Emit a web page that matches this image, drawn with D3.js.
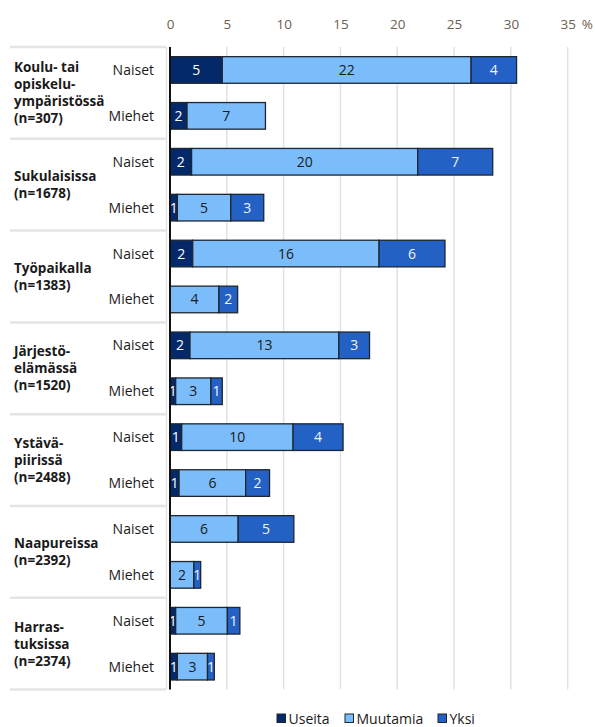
<!DOCTYPE html>
<html>
<head>
<meta charset="utf-8">
<script src="https://cdn.jsdelivr.net/npm/d3@7"></script>
<style>
  html, body { margin: 0; padding: 0; background: #fff; }
  svg { display: block; font-family: "Open Sans", "Noto Sans", sans-serif; }
</style>
</head>
<body>
<svg id="chart" width="595" height="727"></svg>
<script>
// ---- Data ----
const groupLines = [
  ["Koulu- tai", "opiskelu-", "ympäristössä", "(n=307)"],
  ["Sukulaisissa", "(n=1678)"],
  ["Työpaikalla", "(n=1383)"],
  ["Järjestö-", "elämässä", "(n=1520)"],
  ["Ystävä-", "piirissä", "(n=2488)"],
  ["Naapureissa", "(n=2392)"],
  ["Harras-", "tuksissa", "(n=2374)"]
];
const sexes = ["Naiset", "Miehet"];
const seriesNames = ["Useita", "Muutamia", "Yksi"];
// one value per row: group0 Naiset, group0 Miehet, group1 Naiset, ...
const useita   = [4.6, 1.5, 1.9, 0.65, 2.0, 0,    1.76, 0.5, 1.03, 0.8, 0,   0,   0.5,  0.65];
const muutamia = [21.9, 6.9, 19.9, 4.7, 16.4, 4.3, 13.1, 3.1, 9.8, 5.86, 6.0, 2.1, 4.55, 2.65];
const yksi     = [4.0, 0,   6.6, 2.9, 5.8, 1.65, 2.7, 1.0, 4.4, 2.1,  4.9, 0.6, 1.1,  0.6];
const xTicks = [0, 5, 10, 15, 20, 25, 30, 35];

// ---- Build rows ----
const rows = [];
groupLines.forEach((g, gi) => sexes.forEach((s, si) => {
  const i = gi * 2 + si;
  rows.push({ id: i, group: gi, sex: s, vals: [useita[i], muutamia[i], yksi[i]] });
}));

const colors = ["#03296a", "#7bbcfb", "#2461c4"];
const textColors = ["#ffffff", "#1a1a1a", "#eef3ff"];

const svg = d3.select("#chart");
const x = d3.scaleLinear().domain([0, 35]).range([170, 567.7]);
const y = d3.scaleBand().domain(rows.map(r => r.id)).range([47, 689.6])
  .paddingInner(0.42).paddingOuter(0.21);
const step = y.step();
const plotTop = 47, plotBottom = 689.6;

// left panel
const panel = svg.append("g");
for (let gi = 0; gi <= groupLines.length; gi++) {
  const yy = plotTop + gi * 2 * step;
  panel.append("line").attr("x1", 10).attr("x2", 166).attr("y1", yy).attr("y2", yy)
    .attr("stroke", "#e4e4e4").attr("stroke-width", 2.5);
}
panel.append("line").attr("x1", 166.5).attr("x2", 166.5).attr("y1", plotTop).attr("y2", plotBottom)
  .attr("stroke", "#e4e4e4").attr("stroke-width", 1.5);

// gridlines
svg.append("g").selectAll("line").data(xTicks.filter(d => d > 0)).join("line")
  .attr("x1", d => x(d)).attr("x2", d => x(d)).attr("y1", plotTop).attr("y2", plotBottom)
  .attr("stroke", "#e2e2e2").attr("stroke-width", 1.5);

// x axis on top
const xAxis = d3.axisTop(x).tickValues(xTicks).tickSize(0).tickPadding(0)
  .tickFormat(d => d);
const axG = svg.append("g").attr("transform", "translate(0,29)").call(xAxis);
axG.select(".domain").remove();
axG.selectAll("text").attr("font-size", 13.5).attr("fill", "#6e5e4f")
  .attr("font-family", "'Open Sans', sans-serif");
svg.append("text").attr("x", x(35) + 14).attr("y", 29).attr("font-size", 13.5)
  .attr("fill", "#6e5e4f").text("%");

// bars
const segs = [];
rows.forEach(r => {
  let cum = 0;
  r.vals.forEach((v, k) => {
    if (v > 0) segs.push({ row: r, k, x0: cum, x1: cum + v, v });
    cum += v;
  });
});
const barH = y.bandwidth();
const barG = svg.append("g");
barG.selectAll("rect").data(segs).join("rect")
  .attr("x", d => x(d.x0)).attr("width", d => x(d.x1) - x(d.x0))
  .attr("y", d => y(d.row.id)).attr("height", barH)
  .attr("fill", d => colors[d.k]).attr("stroke", "#1e2630").attr("stroke-width", 1.3);
barG.selectAll("text").data(segs).join("text")
  .attr("x", d => (x(d.x0) + x(d.x1)) / 2)
  .attr("y", d => y(d.row.id) + barH / 2 + 5)
  .attr("text-anchor", "middle").attr("font-size", 14)
  .attr("fill", d => textColors[d.k])
  .text(d => Math.round(d.v));

// zero axis
svg.append("line").attr("x1", x(0)).attr("x2", x(0)).attr("y1", plotTop).attr("y2", plotBottom)
  .attr("stroke", "#111").attr("stroke-width", 2);

// row labels
svg.append("g").selectAll("text").data(rows).join("text")
  .attr("x", 154).attr("y", d => y(d.id) + barH / 2 + 5)
  .attr("text-anchor", "end").attr("font-size", 14).attr("fill", "#1a1a1a")
  .text(d => d.sex);

// group labels
const lh = 17;
groupLines.forEach((lines, gi) => {
  const cy = (y(gi * 2) + y(gi * 2 + 1) + barH) / 2;
  const start = cy - (lines.length - 1) * lh / 2;
  const t = svg.append("text").attr("font-size", 13.5).attr("font-weight", "bold").attr("fill", "#1a1a1a");
  lines.forEach((l, li) => {
    t.append("tspan").attr("x", 14).attr("y", start + li * lh + 5).text(l);
  });
});

// legend
const legX = [277, 345, 438];
const leg = svg.append("g").selectAll("g").data(seriesNames).join("g")
  .attr("transform", (d, i) => `translate(${legX[i]},714)`);
leg.append("rect").attr("width", 8.5).attr("height", 8.5)
  .attr("fill", (d, i) => colors[i]).attr("stroke", "#1e2630").attr("stroke-width", 1);
leg.append("text").attr("x", 11.5).attr("y", 9.5).attr("font-size", 14).attr("fill", "#1a1a1a")
  .text(d => d);
</script>
</body>
</html>
